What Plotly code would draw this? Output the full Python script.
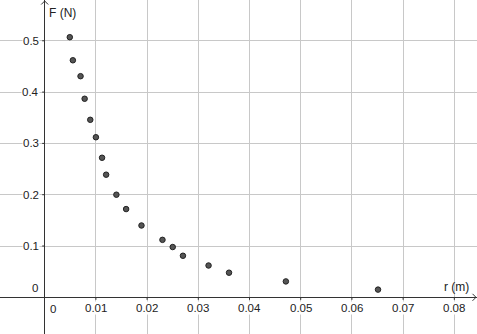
import plotly.graph_objects as go

# Data
r_m = [0.0049, 0.0055, 0.0070, 0.0078, 0.0089, 0.0100, 0.0112, 0.0120,
       0.0140, 0.0159, 0.0189, 0.0230, 0.0250, 0.0270, 0.0320, 0.0360,
       0.0471, 0.0651]
F_N = [0.507, 0.462, 0.431, 0.387, 0.346, 0.312, 0.272, 0.239,
       0.200, 0.172, 0.140, 0.112, 0.098, 0.081, 0.062, 0.048,
       0.031, 0.015]

x_ticks = [0, 0.01, 0.02, 0.03, 0.04, 0.05, 0.06, 0.07, 0.08]
x_tick_labels = ["0", "0.01", "0.02", "0.03", "0.04", "0.05", "0.06", "0.07", "0.08"]
y_ticks = [0, 0.1, 0.2, 0.3, 0.4, 0.5]
y_tick_labels = ["0", "0.1", "0.2", "0.3", "0.4", "0.5"]

W, H = 477, 334
x_range = [-0.00873, 0.08443]
y_range = [-0.0715, 0.5795]
px_x = (x_range[1] - x_range[0]) / W
px_y = (y_range[1] - y_range[0]) / H

FONT = "Liberation Sans, Arial, sans-serif"
TS = 11.5

fig = go.Figure()
fig.add_trace(go.Scatter(
    x=r_m, y=F_N, mode="markers",
    marker=dict(size=5.5, color="#555555", line=dict(width=1, color="#222222")),
    hoverinfo="skip", showlegend=False,
))

annotations = []
for v, t in zip(x_ticks, x_tick_labels):
    if v == 0:
        annotations.append(dict(x=v, y=0, xref="x", yref="y", text=t, showarrow=False,
                                xanchor="left", yanchor="top", xshift=3, yshift=-4,
                                font=dict(family=FONT, size=TS, color="#222")))
    else:
        annotations.append(dict(x=v, y=0, xref="x", yref="y", text=t, showarrow=False,
                                xanchor="center", yanchor="top", yshift=-4,
                                bgcolor="white", borderpad=0,
                                font=dict(family=FONT, size=TS, color="#222")))
for v, t in zip(y_ticks, y_tick_labels):
    if v == 0:
        annotations.append(dict(x=0, y=v, xref="x", yref="y", text=t, showarrow=False,
                                xanchor="right", yanchor="bottom", xshift=-5, yshift=1,
                                font=dict(family=FONT, size=TS, color="#222")))
    else:
        annotations.append(dict(x=0, y=v, xref="x", yref="y", text=t, showarrow=False,
                                xanchor="right", yanchor="middle", xshift=-5,
                                bgcolor="white", borderpad=0,
                                font=dict(family=FONT, size=TS, color="#222")))

annotations.append(dict(x=0, y=y_range[1], xref="x", yref="y", text="F (N)", showarrow=False,
                        xanchor="left", yanchor="top", xshift=2, yshift=-4,
                        font=dict(family=FONT, size=12, color="#222")))
annotations.append(dict(x=x_range[1], y=0, xref="x", yref="y", text="r (m)", showarrow=False,
                        xanchor="right", yanchor="bottom", xshift=-6, yshift=1,
                        font=dict(family=FONT, size=12, color="#222")))

shapes = []
# arrowheads at axis ends
ax_d = 3.5
shapes.append(dict(type="path", xref="x", yref="y",
                   path=f"M {-ax_d*px_x} {y_range[1]-(ax_d+1)*px_y} L 0 {y_range[1]-1*px_y} L {ax_d*px_x} {y_range[1]-(ax_d+1)*px_y}",
                   line=dict(color="#333", width=1)))
shapes.append(dict(type="path", xref="x", yref="y",
                   path=f"M {x_range[1]-(ax_d+1)*px_x} {ax_d*px_y} L {x_range[1]-1*px_x} 0 L {x_range[1]-(ax_d+1)*px_x} {-ax_d*px_y}",
                   line=dict(color="#333", width=1)))
# small tick marks on axes
for v in x_ticks[1:]:
    shapes.append(dict(type="line", xref="x", yref="y", x0=v, x1=v, y0=0, y1=-2.5*px_y,
                       line=dict(color="#333", width=1)))
for v in y_ticks[1:]:
    shapes.append(dict(type="line", xref="x", yref="y", x0=0, x1=-2.5*px_x, y0=v, y1=v,
                       line=dict(color="#333", width=1)))

fig.update_layout(
    width=W, height=H,
    margin=dict(l=0, r=0, t=0, b=0),
    paper_bgcolor="white", plot_bgcolor="white",
    xaxis=dict(range=x_range, tickvals=x_ticks, showticklabels=False, showgrid=True,
               gridcolor="#c8c8c8", gridwidth=1, zeroline=True, zerolinecolor="#333",
               zerolinewidth=1, fixedrange=True, showline=False),
    yaxis=dict(range=y_range, tickvals=y_ticks, showticklabels=False, showgrid=True,
               gridcolor="#c8c8c8", gridwidth=1, zeroline=True, zerolinecolor="#333",
               zerolinewidth=1, fixedrange=True, showline=False),
    annotations=annotations,
    shapes=shapes,
)

fig.write_html("out.html", config={"displayModeBar": False})
